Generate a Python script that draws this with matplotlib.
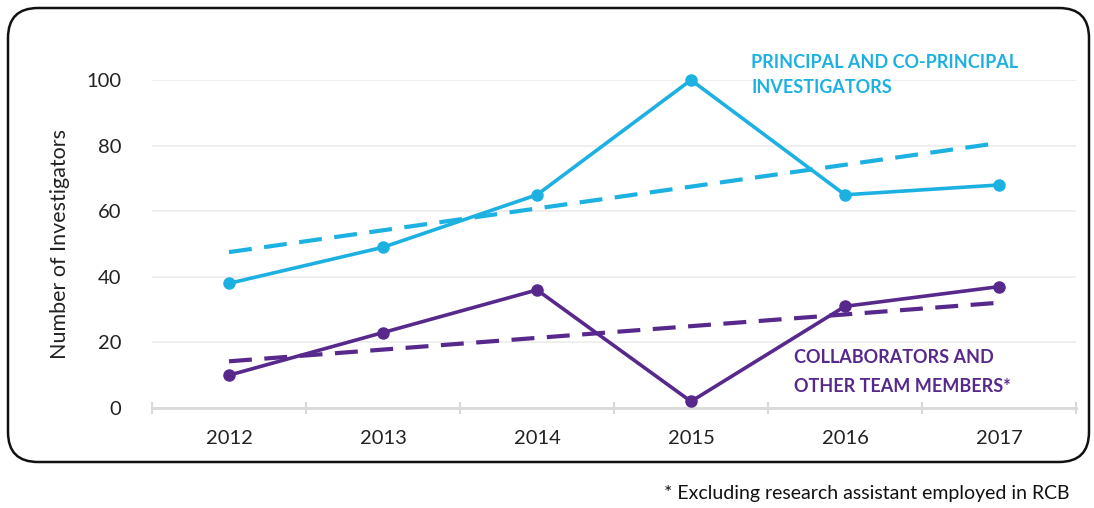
import numpy as np
import matplotlib.pyplot as plt
from matplotlib.patches import FancyBboxPatch

years = ['2012', '2013', '2014', '2015', '2016', '2017']
principal = [38, 49, 65, 100, 65, 68]
collaborators = [10, 23, 36, 2, 31, 37]

cyan = '#1DB1E2'
purple = '#57298C'

plt.rcParams['font.family'] = ['Lato', 'DejaVu Sans']

fig = plt.figure(figsize=(10.94, 5.08), dpi=100)
ax = fig.add_axes([152 / 1094, 1 - 408 / 508, (1076 - 152) / 1094, (408 - 80) / 508])

x = np.arange(len(years))

# linear trend lines, like the spreadsheet's
for vals, col in [(principal, cyan), (collaborators, purple)]:
    k, b = np.polyfit(x, vals, 1)
    ax.plot(x, k * x + b, color=col, lw=3, ls=(0, (5.5, 3)), clip_on=False, zorder=3)
    ax.plot(x, vals, color=col, lw=2.6, marker='o', ms=8, clip_on=False, zorder=4)

ax.set_xlim(-0.5, len(years) - 0.5)
ax.set_ylim(0, 100)
ax.set_yticks(range(0, 101, 20))
ax.set_xticks(x)
ax.set_xticklabels(years)
ax.set_xticks(np.arange(-0.5, len(years), 1), minor=True)
ax.tick_params(axis='x', which='major', length=0, pad=16, labelsize=14.5, labelcolor='#222222')
ax.tick_params(axis='x', which='minor', length=8, direction='inout', color='#d9d9d9', width=1.5)
ax.tick_params(axis='y', length=0, pad=22, labelsize=14.5, labelcolor='#222222')
ax.grid(axis='y', color='#ececec', lw=1.2)
for s in ['top', 'right', 'left']:
    ax.spines[s].set_visible(False)
ax.spines['bottom'].set_color('#d9d9d9')
ax.spines['bottom'].set_linewidth(2)
ax.set_axisbelow(True)
ax.set_ylabel('Number of Investigators', fontsize=15.5, labelpad=12, color='#222222')

ax.text(3.39, 101.5, 'PRINCIPAL AND CO-PRINCIPAL\nINVESTIGATORS', color=cyan,
        fontsize=13, fontweight='bold', va='center', ha='left', linespacing=1.6)
ax.text(3.67, 11, 'COLLABORATORS AND\nOTHER TEAM MEMBERS*', color=purple,
        fontsize=13, fontweight='bold', va='center', ha='left', linespacing=1.8)

box = FancyBboxPatch((0.38, 0.76), 10.21, 3.94, boxstyle='round,pad=0.3,rounding_size=0.3',
                     transform=fig.dpi_scale_trans, fill=False, ec='#111111', lw=1.8)
fig.patches.append(box)

fig.text(1070 / 1094, 1 - 494 / 508, '* Excluding research assistant employed in RCB',
         ha='right', va='center', fontsize=14, color='#111111')

fig.savefig('out.png', dpi=100)
